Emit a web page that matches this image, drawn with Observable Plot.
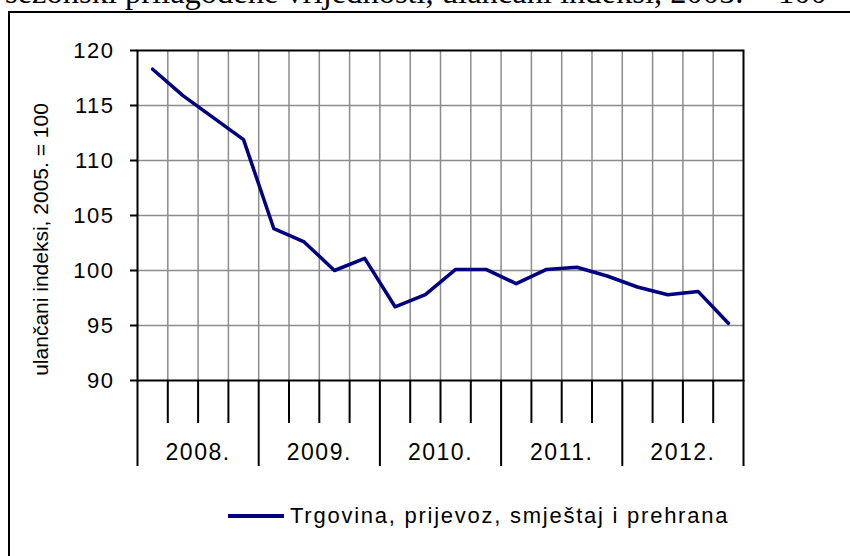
<!DOCTYPE html>
<html>
<head>
<meta charset="utf-8">
<script src="https://cdn.jsdelivr.net/npm/d3@7"></script>
<script src="https://cdn.jsdelivr.net/npm/@observablehq/plot@0.6"></script>
<style>
  html, body { margin: 0; padding: 0; background: #fff; overflow: hidden; }
  #wrap { position: relative; width: 850px; height: 556px; overflow: hidden; }
  #frame { position: absolute; left: 8px; top: 11px; width: 1000px; height: 1000px; border: 2px solid #000; box-sizing: border-box; }
  #title { position: absolute; left: 0; top: 0; }
  #chart { position: absolute; left: 0; top: 0; }
  #chart g[aria-label="y-axis tick label"] text { letter-spacing: 1.5px; }
  #chart g[aria-label="x-axis tick label"] text { letter-spacing: 1.5px; }
  #legend { position: absolute; left: 228px; top: 501px; height: 30px; display: flex; align-items: center;
            font-family: "Liberation Sans", Arial, sans-serif; font-size: 22px; letter-spacing: 1.75px; color: #000; white-space: nowrap; }
  #legend svg { margin-right: 6px; }
</style>
</head>
<body>
<div id="wrap">
  <div id="frame"></div>
  <svg id="title" width="850" height="20"><text x="5" y="3" font-family="Liberation Serif, Times New Roman, serif" font-size="32.5" fill="#000">sezonski prilagođene vrijednosti, ulančani indeksi, 2005. = 100</text></svg>
  <div id="chart"></div>
  <div id="legend"><svg width="56" height="10"><line x1="1" y1="5" x2="55" y2="5" stroke="#000080" stroke-width="4" stroke-linecap="round"/></svg><span id="legtext"></span></div>
</div>
<script>
const quarters = ["2008Q1","2008Q2","2008Q3","2008Q4","2009Q1","2009Q2","2009Q3","2009Q4",
                  "2010Q1","2010Q2","2010Q3","2010Q4","2011Q1","2011Q2","2011Q3","2011Q4",
                  "2012Q1","2012Q2","2012Q3","2012Q4"];
const values = [118.3, 115.9, 113.9, 111.9, 103.8, 102.6, 100.0, 101.1,
                96.7, 97.8, 100.1, 100.1, 98.8, 100.1, 100.3, 99.5,
                98.5, 97.8, 98.1, 95.2];
const years = ["2008.", "2009.", "2010.", "2011.", "2012."];
const yTicks = [90, 95, 100, 105, 110, 115, 120];
const seriesName = "Trgovina, prijevoz, smještaj i prehrana";
const yTitle = "ulančani indeksi, 2005. = 100";

const data = quarters.map((q, i) => ({q, i, v: values[i]}));
const bounds = d3.range(quarters.length + 1).map(i => i - 0.5);
const innerBounds = bounds.slice(1, -1);
const yearBounds = bounds.filter((b, i) => i % 4 === 0);
const minorBounds = bounds.filter((b, i) => i % 4 !== 0);
const yearCenters = years.map((y, k) => k * 4 + 1.5);
const yearLabel = new Map(yearCenters.map((c, k) => [c, years[k]]));

const chart = Plot.plot({
  width: 850,
  height: 556,
  marginLeft: 137,
  marginRight: 107,
  marginTop: 50,
  marginBottom: 176,
  style: {fontFamily: "Liberation Sans, Arial, sans-serif", fontSize: "21px", color: "#000", background: "transparent", overflow: "visible"},
  x: {type: "linear", domain: [-0.5, quarters.length - 0.5]},
  y: {domain: [90, 120]},
  marks: [
    Plot.ruleY(yTicks.slice(1, -1), {stroke: "#8c8c8c", strokeWidth: 1.5}),
    Plot.ruleX(innerBounds, {stroke: "#8c8c8c", strokeWidth: 1.5}),
    Plot.frame({stroke: "#000", strokeWidth: 2}),
    Plot.axisY(yTicks, {tickSize: 7, tickPadding: 16, strokeWidth: 2, fontSize: 22, label: null}),
    Plot.axisX(minorBounds, {tickSize: 43, tickFormat: () => "", strokeWidth: 2, label: null}),
    Plot.axisX(yearBounds, {tickSize: 86, tickFormat: () => "", strokeWidth: 2, label: null}),
    Plot.axisX(yearCenters, {tickSize: 0, tickPadding: 63, tickFormat: d => yearLabel.get(d), fontSize: 23, label: null}),
    Plot.text([yTitle], {frameAnchor: "left", rotate: -90, textAnchor: "middle", dx: -96, dy: 24, fontSize: 21, fill: "#000"}),
    Plot.line(data, {x: "i", y: "v", stroke: "#000080", strokeWidth: 3.5})
  ]
});
document.getElementById("chart").appendChild(chart);
document.getElementById("legtext").textContent = seriesName;
</script>
</body>
</html>
